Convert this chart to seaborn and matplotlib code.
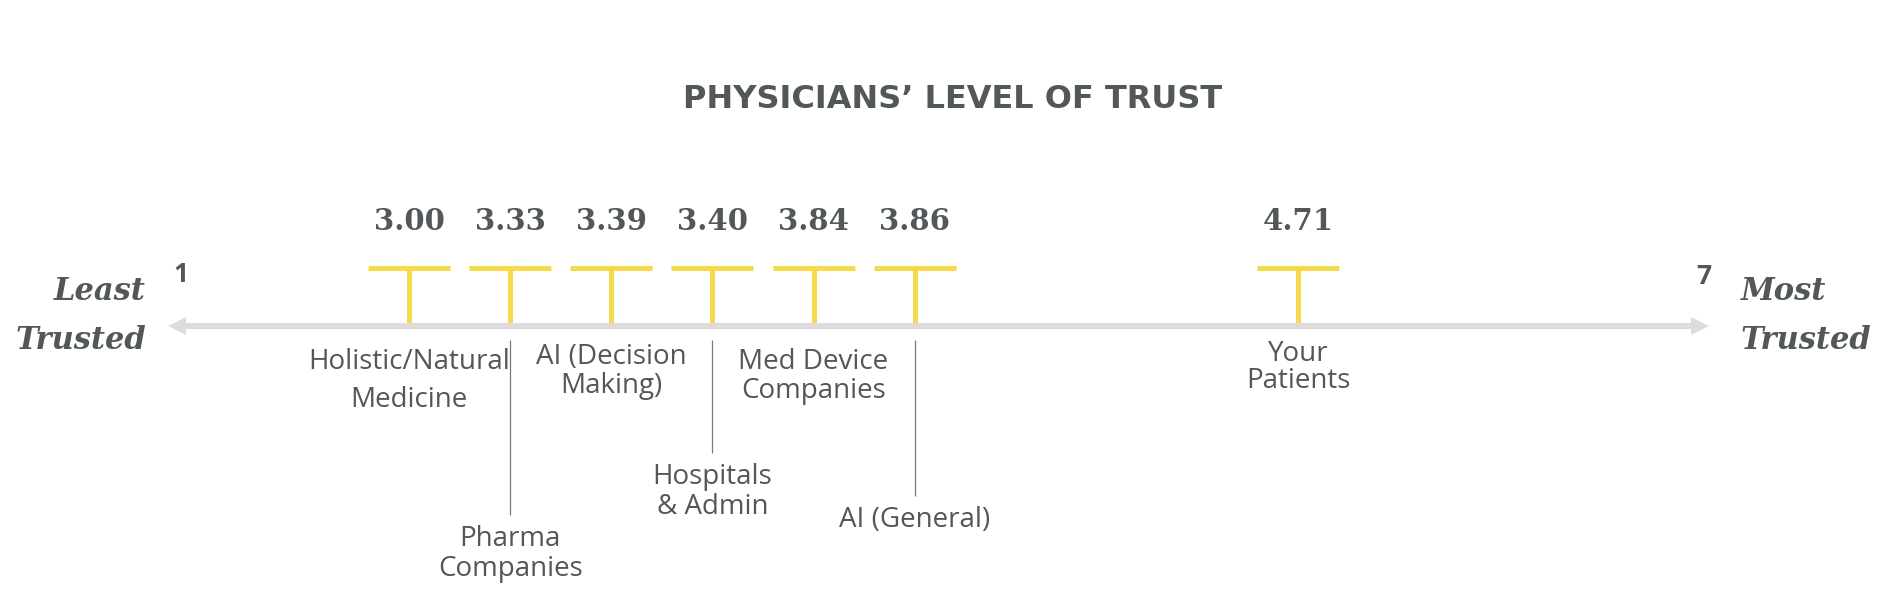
import matplotlib
matplotlib.use("Agg")
import numpy as np
import pandas as pd
import matplotlib.pyplot as plt
import seaborn as sns
from matplotlib.transforms import blended_transform_factory

# data
categories = ["Holistic/Natural\nMedicine", "Pharma\nCompanies", "AI (Decision\nMaking)",
              "Hospitals\n& Admin", "Med Device\nCompanies", "AI (General)", "Your\nPatients"]
scores = [3.00, 3.33, 3.39, 3.40, 3.84, 3.86, 4.71]
scale_ends = ["1", "7"]
end_labels = ["Least\nTrusted", "Most\nTrusted"]
title = "PHYSICIANS\u2019 LEVEL OF TRUST"

# layout (pixel rows from the top of the figure)
label_y0 = [362, 539, 357, 477, 362, 520, 354]     # first text line
label_pitch = [38, 30, 29, 30, 29, 0, 27]         # distance between lines
has_leader = [False, True, False, True, False, True, False]
min_gap = 0.197          # min spacing between markers, in score units
x_range = (2.1794, 5.8760)

TEXT = "#52575a"
YELLOW = "#f6da4c"
AXIS = "#dcdcdc"


def spread(vals, gap):
    # 1-D dodge: push neighbours apart so they sit at least `gap` apart
    groups = [[v] for v in sorted(vals)]

    def place(g):
        c = np.mean(g)
        return [c + gap * (i - (len(g) - 1) / 2) for i in range(len(g))]

    merged = True
    while merged:
        merged = False
        for i in range(len(groups) - 1):
            if place(groups[i])[-1] + gap > place(groups[i + 1])[0] + 1e-9:
                groups[i] = groups[i] + groups.pop(i + 1)
                merged = True
                break
    return [p for g in groups for p in place(g)]


df = pd.DataFrame({"category": categories, "score": scores})
df["pos"] = spread(df["score"], min_gap)
df["top"] = 268

sns.set_theme(style="white")
plt.rcParams["font.family"] = ["Open Sans", "DejaVu Sans"]

fig = plt.figure(figsize=(18.96, 5.90), dpi=100)
ax = fig.add_axes([0, 0, 1, 1])
blend = blended_transform_factory(ax.transAxes, ax.transData)

# axis arrow
ax.plot([0.0936, 0.8964], [326, 326], color=AXIS, lw=4.4, transform=blend,
        solid_capstyle="butt", zorder=3)
ax.plot([0.0936], [326], marker="<", ms=12.5, color=AXIS, mew=0, transform=blend, zorder=3)
ax.plot([0.8964], [326], marker=">", ms=12.5, color=AXIS, mew=0, transform=blend, zorder=3)

# T markers
ax.vlines(df["pos"], 268, 326, color=YELLOW, lw=3.6, zorder=2)
sns.scatterplot(data=df, x="pos", y="top", marker="_", s=3481, linewidth=3.6,
                color=YELLOW, ax=ax, zorder=2, legend=False)

for _, r in df.iterrows():
    ax.text(r["pos"], 222, f"{r['score']:.2f}", ha="center", va="center",
            fontsize=21, fontweight="bold", family="DejaVu Serif", color=TEXT)

for i, r in df.iterrows():
    lines = r["category"].split("\n")
    for k, line in enumerate(lines):
        ax.text(r["pos"], label_y0[i] + k * label_pitch[i], line, ha="center",
                va="center", fontsize=20, color=TEXT)
    if has_leader[i]:
        ax.vlines(r["pos"], 340, label_y0[i] - 24, color="#7a7a7a", lw=0.9)

# scale ends and end labels
ax.text(0.0955, 275, scale_ends[0], transform=blend, ha="center", va="center",
        fontsize=19, fontweight="bold", color=TEXT)
ax.text(0.8987, 276, scale_ends[1], transform=blend, ha="center", va="center",
        fontsize=19, fontweight="bold", color=TEXT)
ax.text(0.077, 316, end_labels[0], transform=blend, ha="right", va="center",
        fontsize=22, fontweight="bold", style="italic", family="DejaVu Serif",
        color=TEXT, linespacing=1.73, multialignment="right")
ax.text(0.918, 316, end_labels[1], transform=blend, ha="left", va="center",
        fontsize=22, fontweight="bold", style="italic", family="DejaVu Serif",
        color=TEXT, linespacing=1.73, multialignment="left")

ax.text(0.5026, 99, title, transform=blend, ha="center", va="center",
        fontsize=23, fontweight="bold", family="DejaVu Sans", color=TEXT)

ax.set_xlim(*x_range)
ax.set_ylim(590, 0)
ax.set_axis_off()

fig.savefig("out.png", dpi=100, facecolor="white")
